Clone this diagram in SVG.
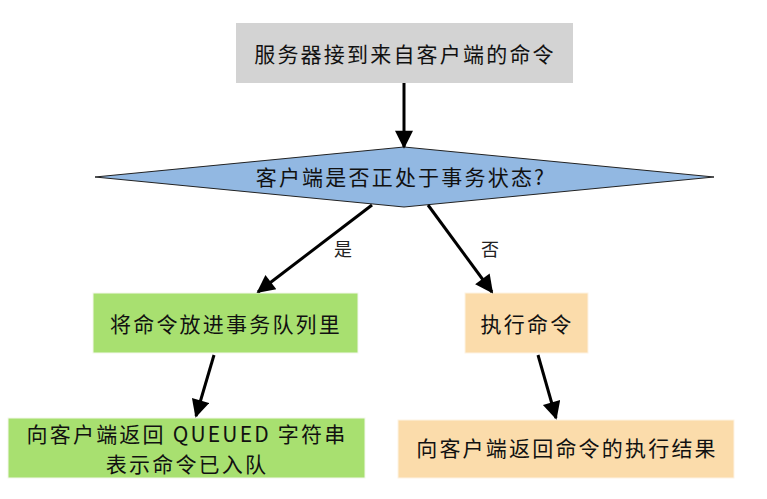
<svg xmlns="http://www.w3.org/2000/svg" width="767" height="499" viewBox="0 0 767 499">
<style>
.t{font-family:"Noto Sans CJK SC","Microsoft YaHei",sans-serif;font-size:21px;letter-spacing:2.2px;fill:#111;text-anchor:middle;dominant-baseline:central}
.l{font-family:"Noto Sans CJK SC",serif;font-size:18px;fill:#222;text-anchor:middle;dominant-baseline:central}
.e{stroke:#000;stroke-width:3;fill:none;marker-end:url(#ah)}
</style>
<defs>
<marker id="ah" viewBox="0 0 10 10" refX="9" refY="5" markerWidth="7" markerHeight="6" markerUnits="strokeWidth" orient="auto">
<path d="M0,0 L10,5 L0,10 z" fill="#000"/>
</marker>
</defs>
<rect width="767" height="499" fill="#fff"/>
<g id="start"><rect x="236" y="23" width="337" height="60" fill="#d3d3d3"/><text class="t" x="405" y="53">服务器接到来自客户端的命令</text></g>
<g id="decision"><polygon points="95,177 404,147 714,177 404,207" fill="#92b8e2" stroke="#222" stroke-width="1"/><text class="t" x="401" y="176">客户端是否正处于事务状态?</text></g>
<g id="enqueue"><rect x="93" y="293" width="265" height="60" fill="#a8e070" stroke="#f3f8ec" stroke-width="1"/><text class="t" x="226" y="323">将命令放进事务队列里</text></g>
<g id="exec"><rect x="465" y="293" width="123" height="60" fill="#fbdcab" stroke="#fdf3e4" stroke-width="1"/><text class="t" x="527" y="323">执行命令</text></g>
<g id="queued"><rect x="8" y="418" width="357" height="60" fill="#a8e070" stroke="#f3f8ec" stroke-width="1"/><text class="t" x="187" y="433">向客户端返回 QUEUED 字符串</text><text class="t" x="187" y="463">表示命令已入队</text></g>
<g id="result"><rect x="398" y="420" width="336" height="58" fill="#fbdcab" stroke="#fdf3e4" stroke-width="1"/><text class="t" x="567" y="447">向客户端返回命令的执行结果</text></g>
<g id="connectors">
<line class="e" x1="404" y1="83" x2="404" y2="147"/>
<line class="e" x1="372" y1="205" x2="258" y2="292"/>
<line class="e" x1="428" y1="205" x2="492" y2="292"/>
<line class="e" x1="214" y1="355" x2="196" y2="416"/>
<line class="e" x1="538" y1="355" x2="556" y2="418"/>
<text class="l" x="343" y="248">是</text>
<text class="l" x="490" y="248">否</text>
</g>
</svg>
